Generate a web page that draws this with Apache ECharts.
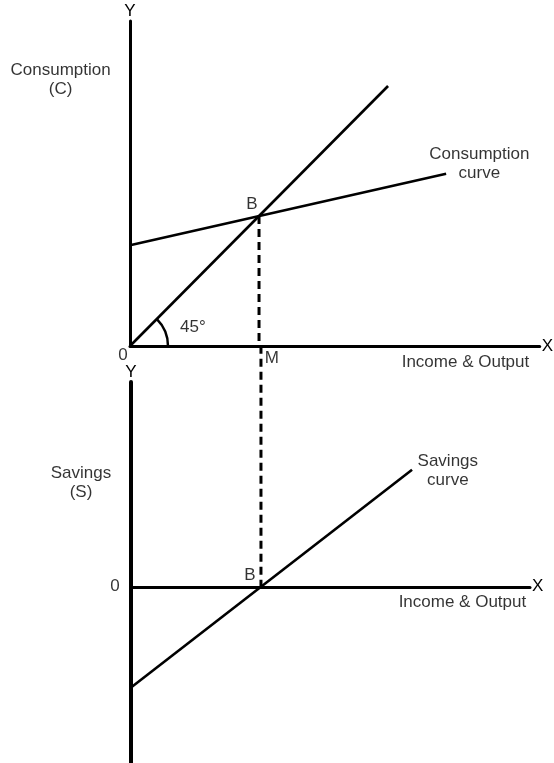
<!DOCTYPE html>
<html>
<head>
<meta charset="utf-8">
<script src="https://cdn.jsdelivr.net/npm/echarts@6/dist/echarts.min.js"></script>
<style>
html, body { margin: 0; padding: 0; background: #fff; }
#chart { width: 554px; height: 763px; }
</style>
</head>
<body>
<div id="chart"></div>
<script>
// values in arbitrary units (income on x)
var incomeLine45 = [0, 8];
var line45 = [0, 8];
var consumptionIncome = [0, 9.8];
var consumption = [3.1, 5.3];
var savingsIncome = [0, 8.65];
var savings = [-3.1, 3.6];
var pointB = [4, 4];
var pointBsavings = [4, 0];
var topAxisLevel = 7.415; // top income axis seen from the lower panel

// text labels: [x, y, text]
var topLabels = [
  [-2.15, 8.2, 'Consumption\n(C)'],
  [-0.22, -0.3, '0'],
  [4.4, -0.37, 'M'],
  [3.78, 4.36, 'B'],
  [1.95, 0.58, '45°'],
  [10.83, 5.6, 'Consumption\ncurve'],
  [10.4, -0.5, 'Income & Output']
];
var bottomLabels = [
  [-1.54, 3.2, 'Savings\n(S)'],
  [-0.49, 0, '0'],
  [3.66, 0.34, 'B'],
  [9.75, 3.56, 'Savings\ncurve'],
  [10.2, -0.47, 'Income & Output']
];

var ink = '#000';
var font = 'Liberation Sans, Arial, sans-serif';

function pairs(xs, ys) {
  var out = [];
  for (var i = 0; i < xs.length; i++) out.push([xs[i], ys[i]]);
  return out;
}

function labelData(list) {
  return list.map(function (d) {
    return { value: [d[0], d[1]], name: d[2] };
  });
}

function axisX(idx, max) {
  return {
    type: 'value', gridIndex: idx, min: 0, max: max,
    name: 'X', nameLocation: 'end', nameGap: 2,
    nameTextStyle: { color: ink, fontSize: 17, fontFamily: font },
    axisLine: { show: true, onZero: true, lineStyle: { color: ink, width: 3 } },
    axisTick: { show: false }, axisLabel: { show: false }, splitLine: { show: false }
  };
}

function axisY(idx, min, max, w) {
  return {
    type: 'value', gridIndex: idx, min: min, max: max,
    name: 'Y', nameLocation: 'end', nameGap: 1,
    nameTextStyle: { color: ink, fontSize: 17, fontFamily: font },
    axisLine: { show: true, lineStyle: { color: ink, width: w } },
    axisTick: { show: false }, axisLabel: { show: false }, splitLine: { show: false }
  };
}

function textSeries(idx, list) {
  return {
    type: 'scatter', xAxisIndex: idx, yAxisIndex: idx,
    symbolSize: 0, clip: false, silent: true, z: 10,
    data: labelData(list),
    label: {
      show: true, position: 'inside', formatter: '{b}',
      color: ink, fontSize: 17, fontFamily: font, lineHeight: 19, align: 'center'
    }
  };
}

function plainLine(idx, data, extra) {
  var s = {
    type: 'line', xAxisIndex: idx, yAxisIndex: idx,
    data: data, symbol: 'none', clip: false, silent: true,
    lineStyle: { color: ink, width: 2.6 }
  };
  if (extra) s.lineStyle = Object.assign(s.lineStyle, extra);
  return s;
}

var chart = echarts.init(document.getElementById('chart'));

var option = {
  backgroundColor: '#fff',
  animation: false,
  grid: [
    { left: 130, top: 21, width: 413, height: 325 },
    { left: 131, top: 382, width: 399, height: 381 }
  ],
  xAxis: [axisX(0, 12.7), axisX(1, 12.28)],
  yAxis: [axisY(0, 0, 10, 3), axisY(1, -5.42, 6.3, 4)],
  series: [
    plainLine(0, pairs(incomeLine45, line45)),
    plainLine(0, pairs(consumptionIncome, consumption)),
    plainLine(0, [pointB, [pointB[0], 0]], { type: [8, 5], width: 3 }),
    plainLine(1, [[pointBsavings[0], topAxisLevel], pointBsavings], { type: [8, 5], width: 3 }),
    plainLine(1, pairs(savingsIncome, savings)),
    textSeries(0, topLabels),
    textSeries(1, bottomLabels)
  ]
};
chart.setOption(option);

// 45 degree angle arc at the origin
var o = chart.convertToPixel({ gridIndex: 0 }, [0, 0]);
chart.setOption({
  graphic: [{
    type: 'arc', silent: true,
    shape: { cx: o[0], cy: o[1], r: 38, startAngle: -Math.PI / 4, endAngle: 0, clockwise: true },
    style: { stroke: ink, lineWidth: 2.5, fill: null }
  }]
});
</script>
</body>
</html>
